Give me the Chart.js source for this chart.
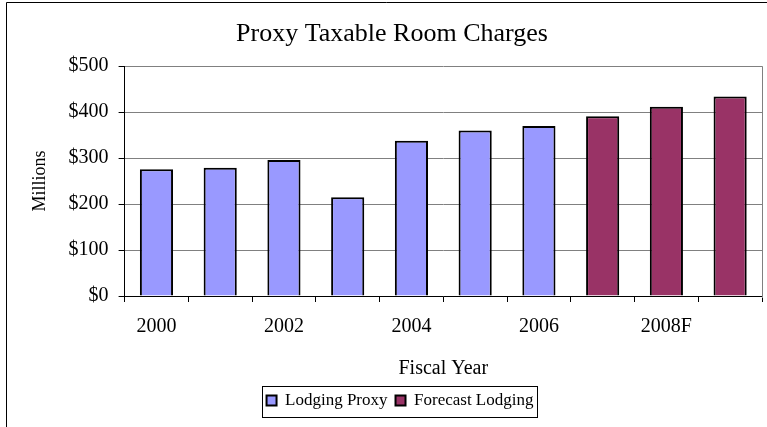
<!DOCTYPE html>
<html>
<head>
<meta charset="utf-8">
<script src="https://cdn.jsdelivr.net/npm/chart.js@4.4.0/dist/chart.umd.min.js"></script>
<style>
  html, body { margin: 0; padding: 0; background: #fff; }
  #wrap { position: relative; width: 767px; height: 427px; }
</style>
</head>
<body>
<div id="wrap"><canvas id="roomChart" width="767" height="427"></canvas></div>
<script>
// chart data
const years = ['2000', '2001', '2002', '2003', '2004', '2005', '2006', '2007F', '2008F', '2009F'];
const lodgingProxy = [276, 279, 296, 215, 338, 360, 370, null, null, null];
const forecastLodging = [null, null, null, null, null, null, null, 391, 412, 434];
const yTicks = [0, 100, 200, 300, 400, 500];

const serif = '"Liberation Serif", "Times New Roman", serif';
const legendShift = 14;
const titleShift = 6;
const legendPad = 8;
const legendFont = 17;

// outer frame, right plot border and box round the legend
const framePlugin = {
  id: 'frame',
  afterUpdate(chart) {
    // legend and title sit a bit right of centre in the original
    chart.legend.left += legendShift;
    chart.legend.right += legendShift;
    chart.titleBlock.left += titleShift;
    chart.titleBlock.right += titleShift;
  },
  afterDraw(chart) {
    const c = chart.ctx;
    const area = chart.chartArea;
    c.save();
    c.strokeStyle = '#000';
    c.lineWidth = 1;
    c.beginPath();
    c.moveTo(6.5, 427);
    c.lineTo(6.5, 2.5);
    c.lineTo(767, 2.5);
    c.stroke();

    c.strokeStyle = '#808080';
    c.beginPath();
    c.moveTo(Math.round(area.right) + 0.5, area.top);
    c.lineTo(Math.round(area.right) + 0.5, area.bottom + 2);
    c.stroke();

    const lg = chart.legend;
    if (lg && lg.lineWidths) {
      const lw = lg.lineWidths[0];
      const x0 = (lg.left + legendPad + lg.right - lw) / 2;
      const left = x0 - 5;
      const right = x0 + lw - legendPad + 3;
      const top = lg.top + legendPad - 6;
      const bottom = lg.top + legendPad + legendFont + 8;
      c.strokeStyle = '#000';
      c.strokeRect(Math.round(left) + 0.5, Math.round(top) + 0.5, Math.round(right - left), Math.round(bottom - top));
    }
    c.restore();
  }
};

const ctx = document.getElementById('roomChart').getContext('2d');
const roomChart = new Chart(ctx, {
  type: 'bar',
  data: {
    labels: years,
    datasets: [
      {
        label: 'Lodging Proxy',
        data: lodgingProxy,
        backgroundColor: '#9999FF',
        borderColor: '#000',
        borderWidth: 2,
        grouped: false
      },
      {
        label: 'Forecast Lodging',
        data: forecastLodging,
        backgroundColor: '#993366',
        borderColor: '#000',
        borderWidth: 2,
        grouped: false
      }
    ]
  },
  options: {
    responsive: false,
    animation: false,
    devicePixelRatio: 1,
    categoryPercentage: 1,
    barPercentage: 0.52,
    layout: { padding: { left: 10, right: 5, top: 0, bottom: 8 } },
    scales: {
      x: {
        grid: { display: true, drawOnChartArea: false, offset: true, tickLength: 6, tickColor: '#000' },
        border: { color: '#000', width: 1 },
        ticks: {
          autoSkip: false,
          maxRotation: 0,
          padding: 13,
          color: '#000',
          font: { family: serif, size: 20 },
          callback: function (val, i) { return i % 2 === 0 ? years[i] : ''; }
        },
        title: {
          display: true,
          text: 'Fiscal Year',
          color: '#000',
          font: { family: serif, size: 20 },
          padding: { top: 5, bottom: 3 }
        }
      },
      y: {
        min: 0,
        max: 500,
        afterBuildTicks: axis => { axis.ticks = yTicks.map(v => ({ value: v })); },
        grid: { color: '#808080', tickLength: 6, tickColor: '#000' },
        border: { color: '#000', width: 1 },
        ticks: {
          padding: 10,
          color: '#000',
          font: { family: serif, size: 20 },
          callback: v => '$' + v
        },
        title: {
          display: true,
          text: 'Millions',
          color: '#000',
          font: { family: serif, size: 18 },
          padding: { top: 19, bottom: 8 }
        }
      }
    },
    plugins: {
      title: {
        display: true,
        text: 'Proxy Taxable Room Charges',
        color: '#000',
        font: { family: serif, size: 26, weight: 'normal' },
        padding: { top: 19, bottom: 16 }
      },
      legend: {
        display: true,
        position: 'bottom',
        labels: {
          color: '#000',
          font: { family: serif, size: legendFont },
          boxWidth: 10,
          boxHeight: 10,
          padding: legendPad
        }
      },
      tooltip: { enabled: false }
    }
  },
  plugins: [framePlugin]
});
</script>
</body>
</html>
